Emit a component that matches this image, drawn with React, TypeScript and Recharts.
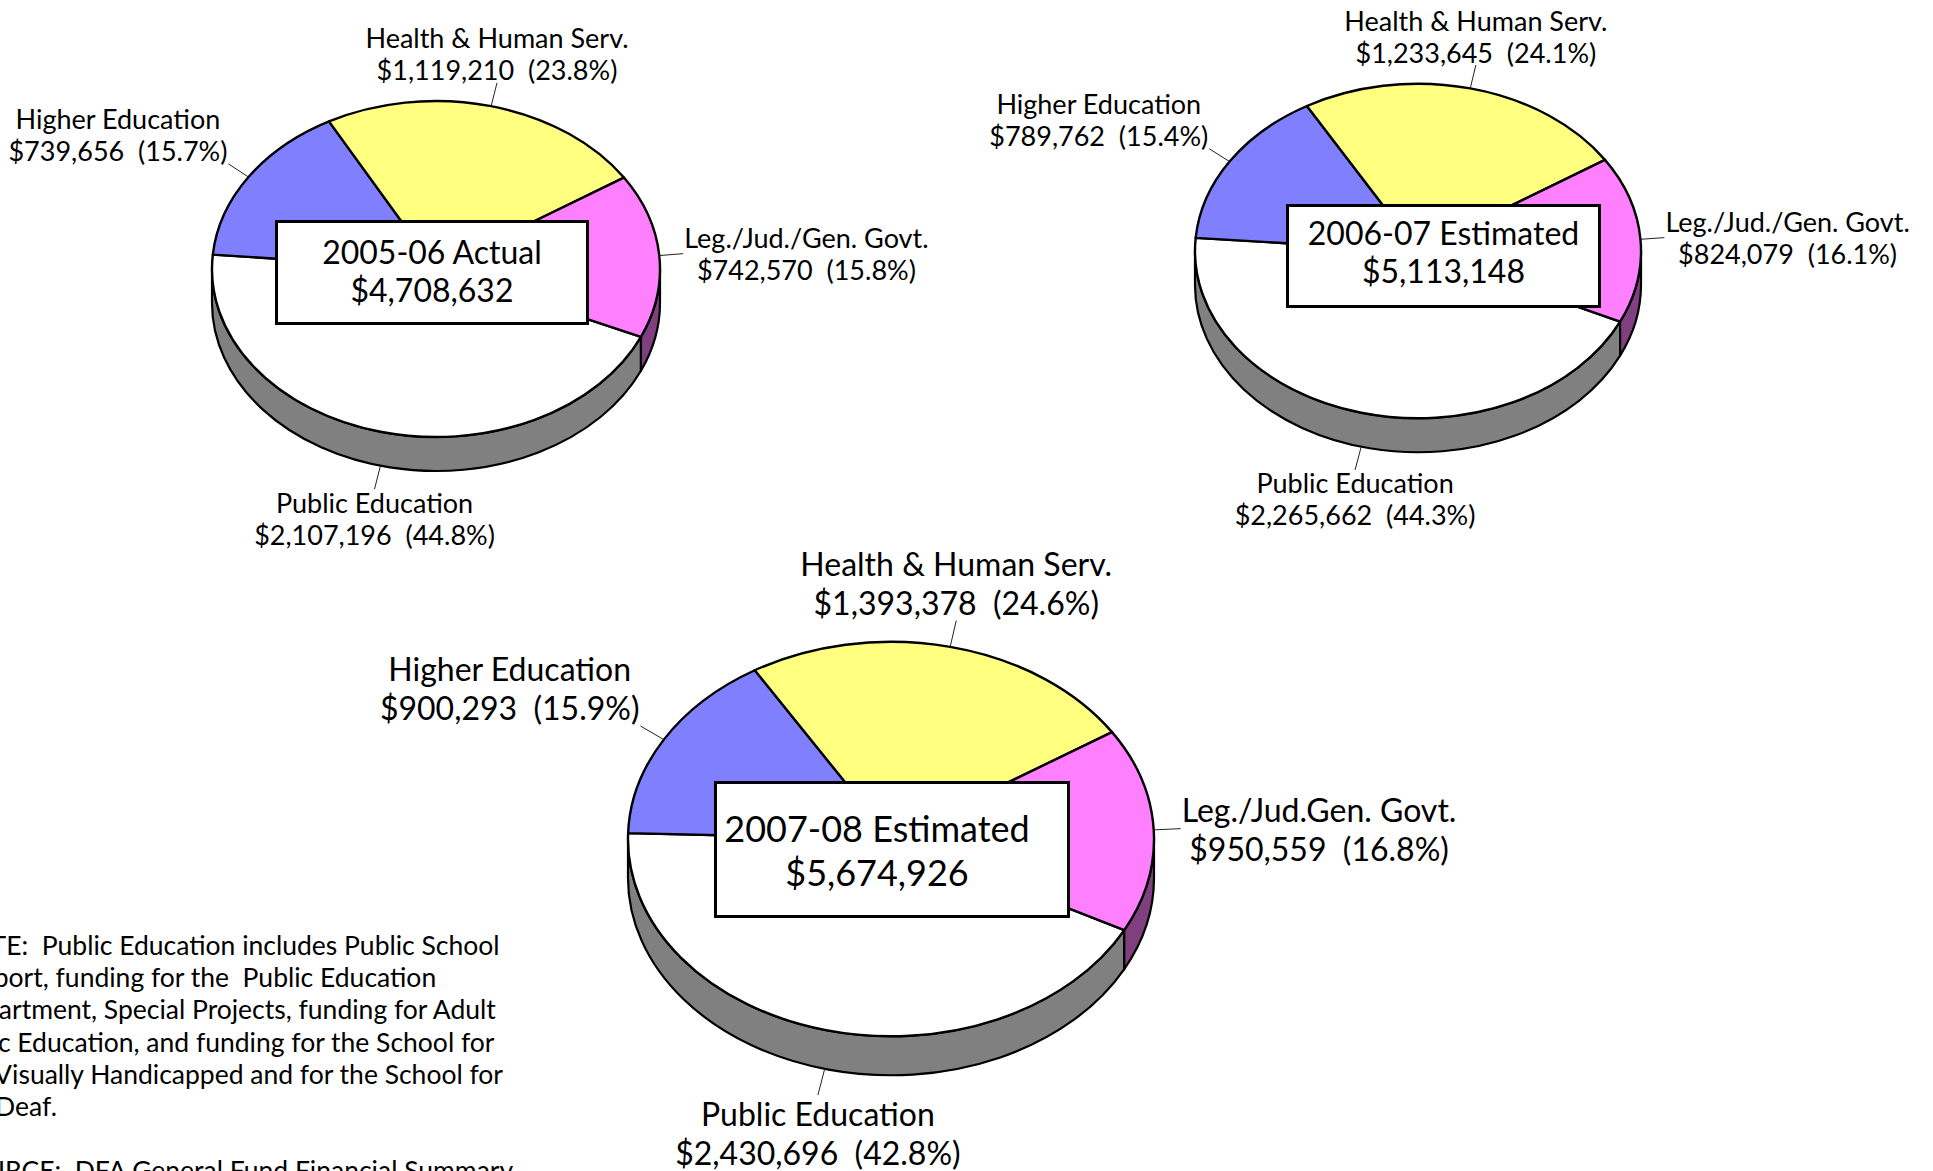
import { PieChart, Pie, Cell } from "recharts";

const categories = [
  "Public Education",
  "Higher Education",
  "Health & Human Serv.",
  "Leg./Jud./Gen. Govt.",
];
const categories0708 = [
  "Public Education",
  "Higher Education",
  "Health & Human Serv.",
  "Leg./Jud.Gen. Govt.",
];

const values0506 = [2107196, 739656, 1119210, 742570];
const values0607 = [2265662, 789762, 1233645, 824079];
const values0708 = [2430696, 900293, 1393378, 950559];

const titles = ["2005-06 Actual", "2006-07 Estimated", "2007-08 Estimated"];
const totals = ["$4,708,632", "$5,113,148", "$5,674,926"];

const noteLines = [
  "NOTE:  Public Education includes Public School",
  "Support, funding for the  Public Education",
  "Department, Special Projects, funding for Adult",
  "Basic Education, and funding for the School for",
  "the Visually Handicapped and for the School for",
  "the Deaf.",
  "",
  "SOURCE:  DFA General Fund Financial Summary",
];

const topColors = ["#ffffff", "#8080ff", "#ffff80", "#ff80ff"];
const wallColors = ["#808080", "#404080", "#808040", "#804080"];

const FONT = "Lato, sans-serif";
const TILT = 0.75;

const toRows = (names: string[], values: number[]) =>
  names.map((name, i) => ({ name, value: values[i] }));

const measure = document.createElement("canvas").getContext("2d");
function textWidth(text: string, size: number) {
  measure.font = `${size}px Lato`;
  return measure.measureText(text).width;
}

const rad = (deg: number) => (deg * Math.PI) / 180;

// recharts hands us the angles, we only squash the circle and add the side wall
function tiltedSector(depth: number) {
  return function TiltedSector(props: any) {
    const { cx, cy, outerRadius: r, startAngle, endAngle, index } = props;
    const ry = r * TILT;
    const at = (a: number, dy = 0) =>
      `${cx + r * Math.cos(rad(a))} ${cy - ry * Math.sin(rad(a)) + dy}`;
    const hi = Math.max(startAngle, endAngle);
    const lo = Math.min(startAngle, endAngle);
    const large = hi - lo > 180 ? 1 : 0;

    const walls: string[] = [];
    for (const top of [360, 0, -360]) {
      const a1 = Math.min(hi, top);
      const a2 = Math.max(lo, top - 180);
      if (a1 > a2) {
        walls.push(
          `M${at(a1)} A${r} ${ry} 0 0 1 ${at(a2)} L${at(a2, depth)} A${r} ${ry} 0 0 0 ${at(a1, depth)} Z`
        );
      }
    }

    return (
      <g>
        {walls.map((d) => (
          <path key={d} d={d} fill={wallColors[index]} stroke="#000" strokeWidth={2.2} strokeLinejoin="round" />
        ))}
        <path
          d={`M${cx} ${cy} L${at(hi)} A${r} ${ry} 0 ${large} 1 ${at(lo)} Z`}
          fill={topColors[index]}
          stroke="#000"
          strokeWidth={2.4}
          strokeLinejoin="round"
        />
      </g>
    );
  };
}

function sliceLabel(depth: number, size: number, lineGap: number, leader: number, shift: number) {
  return function SliceLabel(props: any) {
    const { cx, cy, outerRadius: r, midAngle, name, value, percent } = props;
    const c = Math.cos(rad(midAngle));
    const s = Math.sin(rad(midAngle));
    const x0 = cx + r * c;
    const y0 = cy - r * TILT * s + (s < 0 ? depth : 0);
    const x1 = x0 + leader * c;
    const y1 = y0 - leader * s;

    const line2 = `$${value.toLocaleString("en-US")}\u00a0\u00a0(${(percent * 100).toFixed(1)}%)`;
    const w = Math.max(textWidth(name, size), textWidth(line2, size));
    let tx = x1;
    if (c > 0.6) tx = x1 + w / 2 + 1;
    if (c < -0.6) tx = x1 - w / 2 - 1;
    let ty = y1;
    if (s > 0.3) ty = y1 - shift;
    if (s < -0.3) ty = y1 + shift;

    return (
      <g>
        <line x1={x0} y1={y0} x2={x1} y2={y1} stroke="#222" strokeWidth={1} />
        <text x={tx} y={ty - lineGap / 2} textAnchor="middle" dominantBaseline="central" fontFamily={FONT} fontSize={size} fill="#000">
          {name}
        </text>
        <text x={tx} y={ty + lineGap / 2} textAnchor="middle" dominantBaseline="central" fontFamily={FONT} fontSize={size} fill="#000">
          {line2}
        </text>
      </g>
    );
  };
}

function YearPie(rows: any[], cx: number, cy: number, r: number, start: number, depth: number, size: number, lineGap: number, leader: number, shift: number) {
  return (
    <Pie
      key={cx}
      data={rows}
      dataKey="value"
      nameKey="name"
      cx={cx}
      cy={cy}
      outerRadius={r}
      startAngle={start}
      endAngle={start - 360}
      isAnimationActive={false}
      shape={tiltedSector(depth)}
      labelLine={false}
      label={sliceLabel(depth, size, lineGap, leader, shift)}
    >
      {rows.map((row, i) => (
        <Cell key={row.name} fill={topColors[i]} />
      ))}
    </Pie>
  );
}

function Box({ left, top, right, bottom, size, lineHeight, i, padRight = 0, padBottom = 0 }: any) {
  return (
    <div
      style={{
        position: "absolute",
        left,
        top,
        width: right - left,
        height: bottom - top,
        boxSizing: "border-box",
        border: "3px solid #000",
        background: "#fff",
        display: "flex",
        flexDirection: "column",
        alignItems: "center",
        justifyContent: "center",
        paddingRight: padRight,
        paddingBottom: padBottom,
        fontFamily: FONT,
        fontSize: size,
        lineHeight: `${lineHeight}px`,
        whiteSpace: "nowrap",
        color: "#000",
      }}
    >
      <div>{titles[i]}</div>
      <div>{totals[i]}</div>
    </div>
  );
}

export default function App() {
  return (
    <div
      style={{
        position: "absolute",
        left: 0,
        top: 0,
        width: 1933,
        height: 1171,
        overflow: "hidden",
        background: "#fff",
      }}
    >
      <PieChart width={1933} height={1171} margin={{ top: 0, right: 0, bottom: 0, left: 0 }}>
        {YearPie(toRows(categories, values0506), 436, 269, 224, -23.8, 34, 27, 32, 24, 29)}
        {YearPie(toRows(categories, values0607), 1418, 251, 223, -25, 34, 27, 32, 24, 29)}
        {YearPie(toRows(categories0708, values0708), 891, 839, 263, -27.5, 39, 32, 39, 27, 38)}
      </PieChart>

      <Box left={275} top={220} right={589} bottom={325} size={32} lineHeight={38} i={0} padBottom={3} />
      <Box left={1286} top={204} right={1601} bottom={308} size={32} lineHeight={38} i={1} padBottom={8} />
      <Box left={714} top={781} right={1070} bottom={918} size={36} lineHeight={44} i={2} padRight={30} />

      <div
        style={{
          position: "absolute",
          left: -50,
          top: 929,
          fontFamily: FONT,
          fontSize: 26.5,
          lineHeight: "32.2px",
          whiteSpace: "pre",
          color: "#000",
        }}
      >
        {noteLines.map((line, i) => (
          <div key={i} style={{ height: 32.2 }}>
            {line}
          </div>
        ))}
      </div>
    </div>
  );
}
